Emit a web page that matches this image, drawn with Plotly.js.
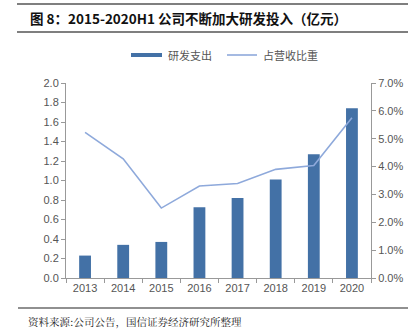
<!DOCTYPE html>
<html>
<head>
<meta charset="utf-8">
<script src="https://cdn.plot.ly/plotly-3.0.1.min.js"></script>
<style>html,body{margin:0;padding:0;background:#fff;}#chart{width:418px;height:335px;}</style>
</head>
<body>
<div id="chart"></div>
<script>
const years = ['2013','2014','2015','2016','2017','2018','2019','2020'];
const rdSpend = [0.23, 0.34, 0.37, 0.725, 0.82, 1.01, 1.27, 1.74];
const rdRatio = [0.0523, 0.0428, 0.0251, 0.0330, 0.0339, 0.0390, 0.0404, 0.0575];
const leftTicks = [0,0.2,0.4,0.6,0.8,1.0,1.2,1.4,1.6,1.8,2.0];
const rightTicks = [0,0.01,0.02,0.03,0.04,0.05,0.06,0.07];
const seriesNames = ['研发支出', '占营收比重'];

const font = 'Liberation Sans, Arial, "Noto Sans CJK SC", sans-serif';
const cjk = '"Noto Sans CJK SC", sans-serif';
const barColor = '#4371A6';
const lineColor = '#8EA9DB';

const traces = [
  {type:'bar', x:years, y:rdSpend, name:seriesNames[0], marker:{color:barColor}, width:0.31, yaxis:'y', showlegend:false},
  {type:'scatter', mode:'lines', x:years, y:rdRatio, name:seriesNames[1], line:{color:lineColor, width:1.6}, yaxis:'y2', showlegend:false}
];

const px = x => (x - 66) / 305;
const py = y => (278 - y) / 195;

const layout = {
  width:418, height:335,
  margin:{l:66, r:47, t:83, b:57},
  paper_bgcolor:'#fff', plot_bgcolor:'#fff',
  showlegend:false,
  xaxis:{type:'category', showline:true, linecolor:'#999', linewidth:1,
    ticks:'outside', tickson:'boundaries', ticklen:4, tickcolor:'#999',
    tickfont:{family:font, size:11, color:'#555'}, showgrid:false, zeroline:false},
  yaxis:{range:[0,2.0], tickvals:leftTicks, ticktext:leftTicks.map(v=>v.toFixed(1)),
    showline:true, linecolor:'#999', ticks:'outside', ticklen:4, tickcolor:'#999',
    tickfont:{family:font, size:11, color:'#555'}, showgrid:false, zeroline:false},
  yaxis2:{range:[0,0.07], overlaying:'y', side:'right', tickvals:rightTicks,
    ticktext:rightTicks.map(v=>(v*100).toFixed(1)+'%'),
    showline:true, linecolor:'#999', ticks:'outside', ticklen:4, tickcolor:'#999',
    tickfont:{family:font, size:11, color:'#555'}, showgrid:false, zeroline:false},
  shapes:[
    {type:'line', xref:'paper', yref:'paper', x0:px(17), x1:px(408), y0:py(4), y1:py(4), line:{color:'#7f7f7f', width:2}},
    {type:'line', xref:'paper', yref:'paper', x0:px(17), x1:px(408), y0:py(32), y1:py(32), line:{color:'#7f7f7f', width:2}},
    {type:'line', xref:'paper', yref:'paper', x0:px(18), x1:px(408), y0:py(308), y1:py(308), line:{color:'#222222', width:1.2}},
    {type:'rect', xref:'paper', yref:'paper', x0:px(131), x1:px(162), y0:py(57), y1:py(53), fillcolor:barColor, line:{width:0}},
    {type:'line', xref:'paper', yref:'paper', x0:px(227), x1:px(257), y0:py(55), y1:py(55), line:{color:lineColor, width:1.6}}
  ],
  annotations:[
    {xref:'paper', yref:'paper', x:px(28), y:py(18), xanchor:'left', yanchor:'middle', align:'left', showarrow:false,
     text:'<b>图 8：2015-2020H1 公司不断加大研发投入（亿元）</b>', font:{family:cjk, size:13.5, color:'#111'}},
    {xref:'paper', yref:'paper', x:px(166), y:py(55), xanchor:'left', yanchor:'middle', align:'left', showarrow:false,
     text:seriesNames[0], font:{family:cjk, size:11, color:'#555'}},
    {xref:'paper', yref:'paper', x:px(261), y:py(55), xanchor:'left', yanchor:'middle', align:'left', showarrow:false,
     text:seriesNames[1], font:{family:cjk, size:11, color:'#555'}},
    {xref:'paper', yref:'paper', x:px(26), y:py(321), xanchor:'left', yanchor:'middle', align:'left', showarrow:false,
     text:'资料来源:公司公告，国信证券经济研究所整理', font:{family:'"Noto Serif CJK SC", "Noto Sans CJK SC", serif', size:10.5, color:'#222'}}
  ]
};
Plotly.newPlot('chart', traces, layout, {displayModeBar:false, staticPlot:true});
</script>
</body>
</html>
